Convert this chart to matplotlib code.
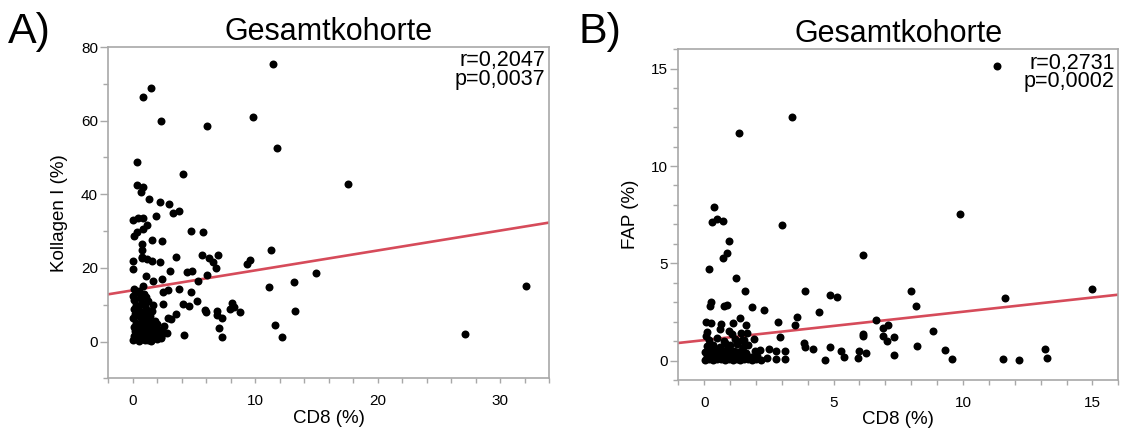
import numpy as np
import matplotlib
matplotlib.use("Agg")
import matplotlib.pyplot as plt
from matplotlib.ticker import MultipleLocator

plt.rcParams['font.family'] = ['Liberation Sans', 'DejaVu Sans']

# ---- Panel A: CD8 vs Kollagen I ----
cd8_a = [11.5, 1.49, 0.88, 2.33, 6.09, 9.85, 11.78, 0.34, 4.13, 0.39, 0.88, 0.69, 17.58,
         1.32, 2.27, 2.98, 3.34, 3.83, 1.9, 0.02, 0.47, 0.88, 1.16, 0.88, 0.39, 0.12, 4.78,
         5.79, 1.57, 2.43, 0.8, 0.8, 0.8, 0.06, 1.2, 3.55, 5.65, 6.25, 7.0, 6.82, 6.6, 9.6,
         9.33, 0.07, 0.75, 1.57, 2.25, 3.06, 1.08, 1.7, 2.43, 4.43, 4.84, 5.38, 6.11, 11.3,
         11.18, 11.6, 12.19, 14.97, 13.14, 13.25, 27.14, 32.12, 0.88, 2.52, 2.92, 3.83, 4.78,
         5.3, 4.15, 4.64, 2.52, 5.92, 6.0, 6.88, 6.93, 7.31, 8.1, 8.29, 7.97, 8.81, 7.09, 7.28,
         4.24, 3.55, 2.92, 3.1, 2.79, 2.1, 1.7, 2.3,
         # dichter Bereich
         0.05, 0.1, 0.2, 0.1, 0.3, 0.05, 0.2, 0.1, 0.3, 0.15, 0.05, 0.25, 0.1,
         0.5, 0.6, 0.45, 0.7, 0.55, 0.8, 0.5, 0.65, 0.45, 0.75, 0.6, 0.9, 0.55,
         1.0, 1.1, 0.95, 1.2, 1.05, 1.3, 0.9, 1.15, 1.0, 1.25, 1.1,
         1.5, 1.6, 1.4, 1.7, 1.5, 1.8, 1.45, 1.6, 1.7,
         2.0, 2.3, 1.9, 2.5, 2.2, 2.6, 2.0,
         0.3, 0.85, 1.3, 0.35, 0.95, 0.25, 0.7]
kollagen = [75.5, 68.9, 66.5, 59.8, 58.6, 61.0, 52.5, 48.8, 45.5, 42.5, 41.9, 40.7, 42.9,
            38.8, 37.9, 37.5, 35.0, 35.4, 34.1, 32.9, 33.5, 33.5, 31.6, 30.5, 29.8, 28.6, 30.0,
            29.9, 27.6, 27.3, 26.6, 24.8, 23.1, 22.0, 22.4, 22.9, 23.4, 22.7, 23.4, 20.0, 21.7, 22.1,
            21.2, 19.6, 22.7, 21.8, 21.7, 19.3, 17.7, 16.4, 17.0, 18.8, 19.3, 16.6, 18.2, 25.0,
            14.8, 4.4, 1.4, 18.7, 16.1, 8.2, 2.1, 15.1, 15.0, 13.6, 13.9, 14.3, 13.6,
            11.1, 10.2, 9.7, 10.2, 8.6, 8.0, 8.2, 7.3, 6.4, 10.5, 9.5, 8.9, 8.0, 3.8, 1.4,
            1.8, 7.5, 6.4, 6.2, 2.3, 1.8, 1.1, 1.1,
            0.5, 1.5, 2.8, 4.0, 5.2, 6.5, 7.6, 8.8, 10.0, 11.3, 12.5, 13.4, 14.2,
            0.3, 1.2, 2.2, 3.5, 4.6, 5.8, 6.9, 8.1, 9.3, 10.6, 11.8, 12.9, 13.8,
            0.4, 1.6, 2.6, 3.8, 5.0, 6.2, 7.3, 8.6, 9.8, 11.0, 12.2,
            0.2, 1.0, 2.3, 3.4, 4.8, 5.6, 7.0, 8.4, 10.0,
            0.6, 1.2, 2.0, 2.4, 3.2, 4.3, 4.9,
            0.9, 0.8, 0.5, 3.6, 4.2, 9.4, 12.3]
fit_a = (0.541, 13.93)   # Steigung, Achsenabschnitt
stats_a = "r=0,2047\np=0,0037"

# ---- Panel B: CD8 vs FAP ----
cd8_b = [3.40, 1.35, 0.38, 0.32, 0.51, 0.74, 3.02, 0.96, 0.9, 0.72, 0.19, 1.24, 1.58, 3.88,
         4.85, 5.13, 0.28, 0.23, 0.87, 0.77, 1.86, 2.31, 4.43, 1.38, 3.57, 3.5, 2.86, 0.07,
         0.25, 0.66, 1.6, 1.13, 0.1, 0.06, 0.61, 0.96, 1.09, 1.41, 1.67, 1.92, 2.92, 1.45,
         3.85, 3.89, 4.2, 4.85, 4.65, 5.3, 5.42, 3.13, 3.12, 2.78, 2.78, 2.5, 2.41,
         11.32, 9.88, 6.14, 8.01, 11.64, 14.98, 8.19, 6.65, 7.12, 6.89, 6.14, 6.12, 6.89,
         7.06, 7.33, 8.83, 6.0, 5.94, 6.26, 7.35, 8.22, 9.32, 9.59, 11.53, 12.16, 13.17, 13.26,
         # dichter Bereich
         0.05, 0.2, 0.35, 0.5, 0.65, 0.8, 0.95, 1.1, 1.25, 1.4, 1.55, 1.7, 1.85, 2.0, 2.2,
         0.1, 0.3, 0.45, 0.6, 0.75, 0.9, 1.05, 1.2, 1.35, 1.5, 1.65, 1.8, 2.05,
         0.05, 0.25, 0.4, 0.55, 0.7, 0.85, 1.0, 1.15, 1.3, 1.45, 1.6, 1.95, 2.15,
         0.1, 0.35, 0.6, 0.8, 1.0, 1.25, 1.5, 1.7,
         0.2, 0.5, 0.75, 1.2, 1.55]
fap = [12.52, 11.70, 7.91, 7.10, 7.28, 7.16, 6.98, 6.13, 5.51, 5.27, 4.69, 4.26, 3.6, 3.6,
       3.39, 3.29, 3.0, 2.82, 2.88, 2.79, 2.77, 2.6, 2.48, 2.19, 2.22, 1.83, 2.0, 2.0,
       1.92, 1.9, 1.83, 1.92, 1.45, 1.28, 1.63, 1.54, 1.37, 1.4, 1.42, 1.11, 1.2, 1.06,
       0.89, 0.7, 0.6, 0.72, 0.05, 0.48, 0.2, 0.47, 0.07, 0.5, 0.08, 0.6, 0.15,
       15.12, 7.55, 5.41, 3.56, 3.2, 3.68, 2.82, 2.1, 1.83, 1.66, 1.37, 1.25, 1.28,
       1.03, 1.22, 1.52, 0.48, 0.14, 0.38, 0.29, 0.73, 0.56, 0.07, 0.07, 0.04, 0.58, 0.14,
       0.05, 0.08, 0.03, 0.1, 0.06, 0.02, 0.09, 0.05, 0.07, 0.03, 0.1, 0.06, 0.04, 0.08, 0.05,
       0.25, 0.22, 0.28, 0.2, 0.3, 0.24, 0.27, 0.21, 0.29, 0.23, 0.26, 0.2, 0.25,
       0.45, 0.5, 0.42, 0.55, 0.48, 0.52, 0.44, 0.5, 0.46, 0.54, 0.41, 0.49, 0.53,
       0.75, 0.82, 0.7, 0.88, 0.78, 0.85, 0.72, 0.8,
       1.05, 1.15, 1.0, 1.12, 1.08]
fit_b = (0.146, 1.05)
stats_b = "r=0,2731\np=0,0002"

LINE_RED = '#d64b5a'
SPINE_GREY = '#a8a8a8'


def style_axes(ax):
    for s in ax.spines.values():
        s.set_color(SPINE_GREY)
        s.set_linewidth(1.2)
    ax.tick_params(axis='both', which='both', colors=SPINE_GREY, labelcolor='black',
                   labelsize=11, width=1.0, direction='out')
    ax.tick_params(axis='y', which='major', length=5.8, pad=1.5)
    ax.tick_params(axis='y', which='minor', length=3.6)
    ax.tick_params(axis='x', which='both', length=3.4, pad=8)
    ax.tick_params(axis='both', which='both', top=False, right=False)


def panel(ax, x, y, fit, stats, xlim, ylim, xmaj, xmin, ymaj, ymin, ylabel):
    ax.scatter(x, y, s=33, color='black', linewidths=0, zorder=3)
    xs = np.array(xlim)
    ax.plot(xs, fit[0] * xs + fit[1], color=LINE_RED, lw=1.9, zorder=2)
    ax.set_xlim(*xlim)
    ax.set_ylim(*ylim)
    ax.xaxis.set_major_locator(MultipleLocator(xmaj))
    ax.xaxis.set_minor_locator(MultipleLocator(xmin))
    ax.yaxis.set_major_locator(MultipleLocator(ymaj))
    ax.yaxis.set_minor_locator(MultipleLocator(ymin))
    style_axes(ax)
    ax.set_title("Gesamtkohorte", fontsize=22, pad=5)
    ax.set_xlabel("CD8 (%)", fontsize=13.5, labelpad=1)
    ax.set_ylabel(ylabel, fontsize=13.5, labelpad=9)
    ax.text(0.992, 0.99, stats, transform=ax.transAxes, ha='right', va='top',
            fontsize=15.5, linespacing=0.85)


def main():
    fig = plt.figure(figsize=(11.29, 4.36), dpi=100)
    ax1 = fig.add_axes([0.0957, 0.1319, 0.3906, 0.7603])
    ax2 = fig.add_axes([0.6008, 0.1284, 0.3897, 0.7586])

    panel(ax1, cd8_a, kollagen, fit_a, stats_a, (-2, 34), (-10, 80), 10, 2, 20, 10,
          "Kollagen I (%)")
    panel(ax2, cd8_b, fap, fit_b, stats_b, (-1, 16), (-1, 16), 5, 1, 5, 1,
          "FAP (%)")

    # Panelbuchstaben
    fig.text(8 / 1129, 1 - 43 / 436, "A)", fontsize=31, ha='left', va='baseline')
    fig.text(578 / 1129, 1 - 43 / 436, "B)", fontsize=31, ha='left', va='baseline')

    fig.savefig("out.png", dpi=100)


if __name__ == "__main__":
    main()
